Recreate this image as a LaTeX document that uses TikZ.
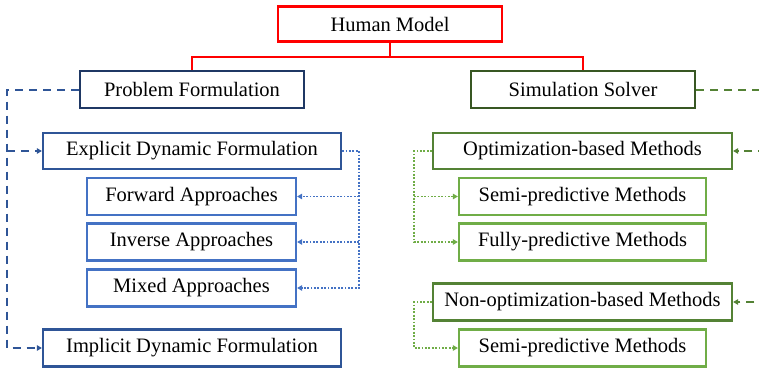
\documentclass[tikz,border=0pt]{standalone}
\usepackage{fontspec}
\setmainfont{Liberation Serif}
\usetikzlibrary{arrows.meta,calc}
\usepackage{xcolor}
\definecolor{hmred}{HTML}{FF0000}
\definecolor{navyblue}{HTML}{1F3864}
\definecolor{midblue}{HTML}{2F5597}
\definecolor{lightblue}{HTML}{4472C4}
\definecolor{darkgreen}{HTML}{385723}
\definecolor{midgreen}{HTML}{548235}
\definecolor{lightgreen}{HTML}{70AD47}

\tikzset{
  box/.style={draw,line width=2.2pt,fill=white,inner sep=0pt,
    font=\fontsize{20.5}{24}\selectfont},
  tip/.style={-{Triangle[length=5pt,width=5.5pt]}},
  dashline/.style={line width=2pt,dash pattern=on 8pt off 6pt},
  dotline/.style={line width=1.7pt,dash pattern=on 1.8pt off 1.6pt}
}

\begin{document}
\begin{tikzpicture}[x=1pt,y=-1pt]

\clip (0,0) rectangle (759,369);

\node[box,draw=hmred,minimum width=224,minimum height=35] (human) at (390,24) {Human Model};

\node[box,draw=navyblue,minimum width=224,minimum height=37] (probform) at (192,89.5) {Problem Formulation};
\node[box,draw=darkgreen,minimum width=224,minimum height=37] (simsolver) at (583,89.5) {Simulation Solver};

\node[box,draw=midblue,minimum width=298,minimum height=36] (explicit) at (192,151) {Explicit Dynamic Formulation};
\node[box,draw=lightblue,minimum width=209,minimum height=37] (forward) at (191.5,196.5) {Forward Approaches};
\node[box,draw=lightblue,minimum width=209,minimum height=37] (inverse) at (191.5,242) {Inverse Approaches};
\node[box,draw=lightblue,minimum width=209,minimum height=37] (mixed) at (191.5,288) {Mixed Approaches};
\node[box,draw=midblue,minimum width=298,minimum height=37] (implicit) at (192,348) {Implicit Dynamic Formulation};

\node[box,draw=midgreen,minimum width=299,minimum height=36] (optim) at (582.5,151) {Optimization-based Methods};
\node[box,draw=lightgreen,minimum width=247,minimum height=37] (semione) at (582.5,196.5) {Semi-predictive Methods};
\node[box,draw=lightgreen,minimum width=247,minimum height=37] (fully) at (582.5,242) {Fully-predictive Methods};
\node[box,draw=midgreen,minimum width=299,minimum height=37] (nonoptim) at (582.5,302) {Non-optimization-based Methods};
\node[box,draw=lightgreen,minimum width=247,minimum height=37] (semitwo) at (582.5,348) {Semi-predictive Methods};

% rails
\coordinate (lrail) at (7,89.5);
\coordinate (brail) at (359,151);
\coordinate (grail) at (414,151);
\coordinate (rrail) at (766,89.5);

% tree
\draw[hmred,line width=2pt] (human.south) -- ++(0,14.5) -| (probform.north);
\draw[hmred,line width=2pt] (human.south) -- ++(0,14.5) -| (simsolver.north);

% left side
\draw[midblue,dashline,tip] (probform.west) -- (lrail) |- (implicit.west);
\draw[midblue,dashline,tip] (lrail |- explicit.west) -- (explicit.west);
\draw[lightblue,dotline,tip] (explicit.east) -- (brail) |- (mixed.east);
\draw[lightblue,dotline,tip] (brail |- forward.east) -- (forward.east);
\draw[lightblue,dotline,tip] (brail |- inverse.east) -- (inverse.east);

% right side
\draw[midgreen,dashline,tip] (simsolver.east) -- (rrail) |- (nonoptim.east);
\draw[midgreen,dashline,tip] (rrail |- optim.east) -- (optim.east);
\draw[lightgreen,dotline,tip] (optim.west) -- (grail) |- (fully.west);
\draw[lightgreen,dotline,tip] (grail |- semione.west) -- (semione.west);
\draw[lightgreen,dotline,tip] (nonoptim.west) -| (grail |- semitwo.west) -- (semitwo.west);

\end{tikzpicture}
\end{document}
